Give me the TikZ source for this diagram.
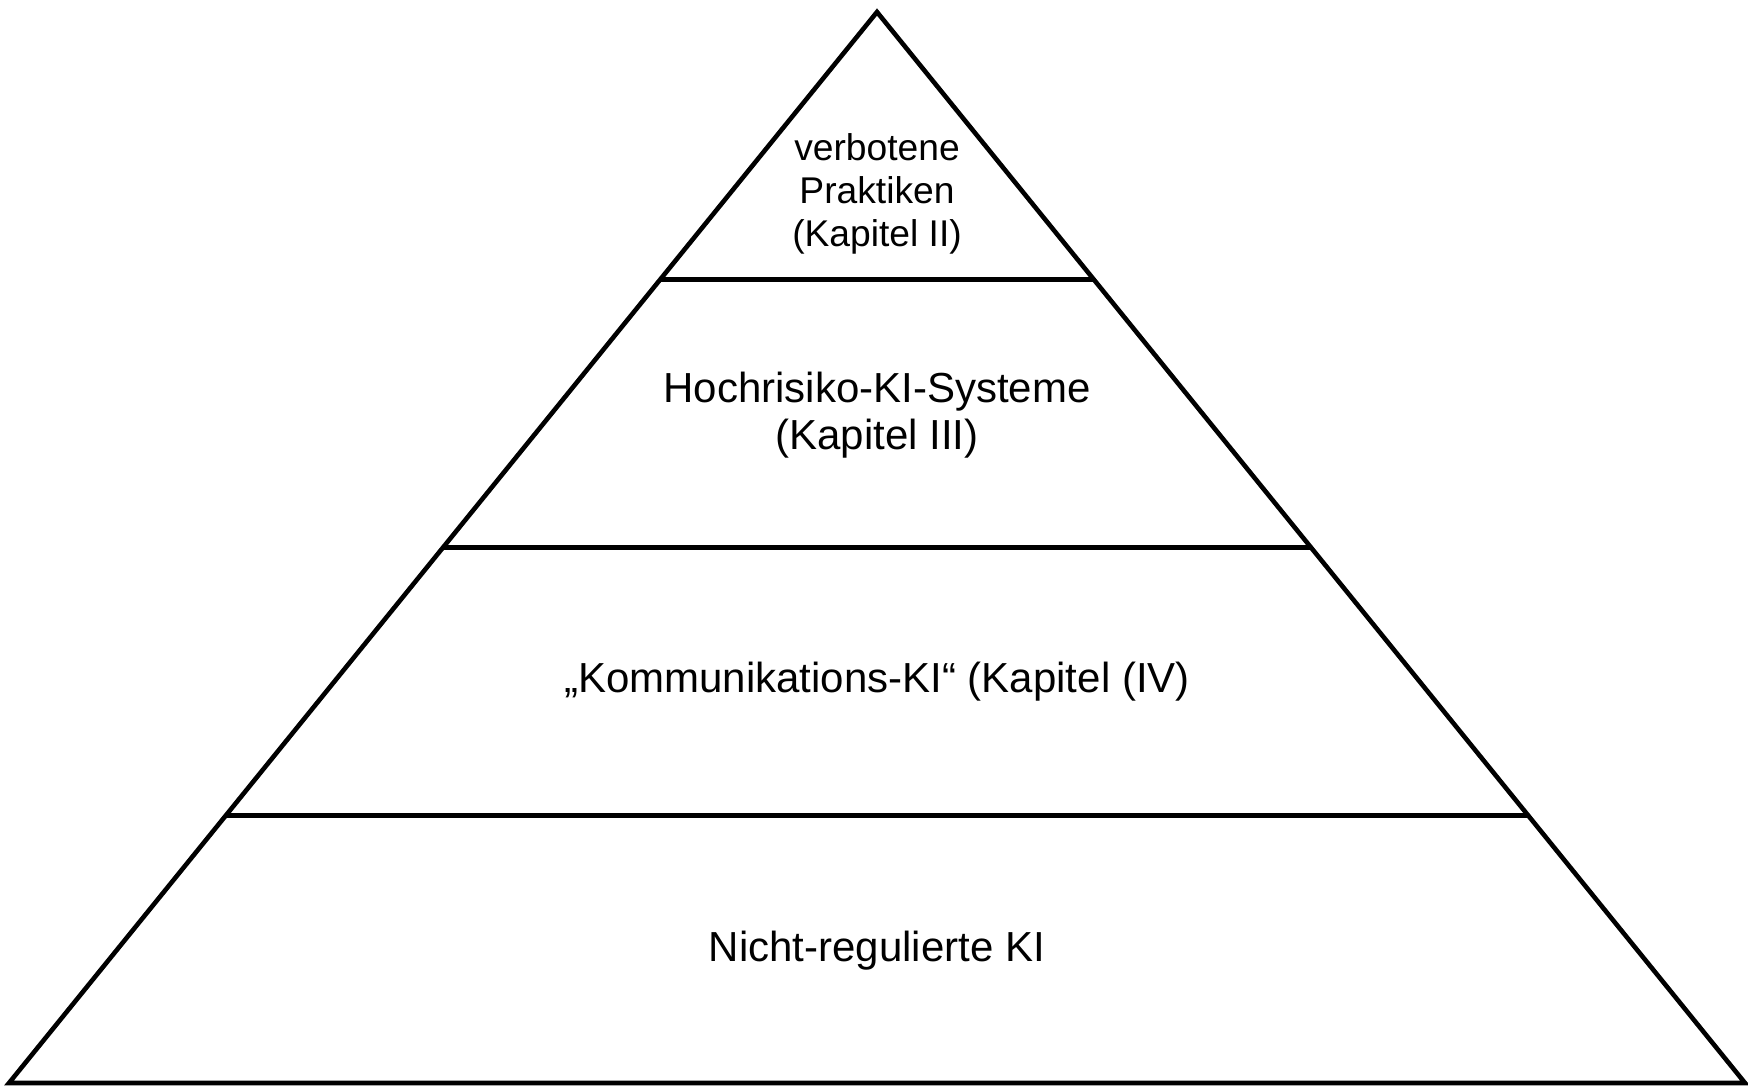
\documentclass[tikz,border=0pt]{standalone}
\usepackage{fontspec}
\setmainfont{Liberation Sans}
\usetikzlibrary{calc}
\begin{document}
\begin{tikzpicture}[x=0.5pt,y=-0.5pt,
  edge/.style={draw=black,line width=2.3pt},
  biglabel/.style={align=center,inner sep=0pt,font=\fontsize{21}{23.5}\selectfont},
  smalllabel/.style={align=center,inner sep=0pt,font=\fontsize{18.6}{21.6}\selectfont}]
\fill[white] (0,0) rectangle (1748,1088);
\useasboundingbox (0,0) rectangle (1748,1088);
\coordinate (apex) at (877,12);
\coordinate (bl) at (9,1083);
\coordinate (br) at (1745,1083);
\coordinate (l1) at ($(bl)!0.75!(apex)$);
\coordinate (r1) at ($(br)!0.75!(apex)$);
\coordinate (l2) at ($(bl)!0.5!(apex)$);
\coordinate (r2) at ($(br)!0.5!(apex)$);
\coordinate (l3) at ($(bl)!0.25!(apex)$);
\coordinate (r3) at ($(br)!0.25!(apex)$);
\draw[edge] (apex) -- (br) -- (bl) -- cycle;
\draw[edge] (l1) -- (r1);
\draw[edge] (l2) -- (r2);
\draw[edge] (l3) -- (r3);
\node[smalllabel] (top) at (877,194) {verbotene\\Praktiken\\(Kapitel II)};
\node[biglabel] (high) at (877,415) {Hochrisiko-KI-Systeme\\(Kapitel III)};
\node[biglabel] (comm) at (877,682) {„Kommunikations-KI“ (Kapitel (IV)};
\node[biglabel] (none) at (877,951) {Nicht-regulierte KI};
\end{tikzpicture}
\end{document}
